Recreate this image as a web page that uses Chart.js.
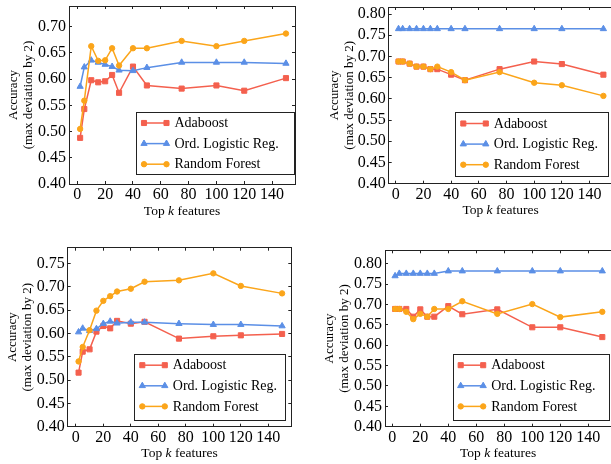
<!DOCTYPE html>
<html><head><meta charset="utf-8">
<script src="https://cdn.jsdelivr.net/npm/chart.js@4/dist/chart.umd.min.js"></script>
<style>
html,body{margin:0;padding:0;background:#fff;}
body{width:611px;height:464px;overflow:hidden;position:relative;}
.panel{position:absolute;overflow:hidden;}
canvas{position:absolute;left:0;top:0;}
</style></head><body>
<div class="panel" style="left:0;top:0;width:305px;height:232px"><canvas id="c1" width="305" height="232"></canvas></div>
<div class="panel" style="left:305px;top:0;width:306px;height:232px"><canvas id="c2" width="320" height="232"></canvas></div>
<div class="panel" style="left:0;top:232px;width:305px;height:232px"><canvas id="c3" width="305" height="232"></canvas></div>
<div class="panel" style="left:305px;top:232px;width:306px;height:232px"><canvas id="c4" width="320" height="232"></canvas></div>
<script>
// ---- data ----
const kValues = [2, 5, 10, 15, 20, 25, 30, 40, 50, 75, 100, 120, 150];
const seriesNames = ['Adaboost', 'Ord. Logistic Reg.', 'Random Forest'];
const yTitleLines = ['Accuracy', '(max deviation by 2)'];
const xTitleParts = ['Top ', 'k', ' features'];

// top-left
const tlAdaboost = [0.488, 0.543, 0.598, 0.594, 0.596, 0.608, 0.574, 0.624, 0.588, 0.582, 0.588, 0.578, 0.602];
const tlOrdLogistic = [0.586, 0.623, 0.636, 0.632, 0.628, 0.624, 0.617, 0.616, 0.622, 0.632, 0.632, 0.632, 0.630];
const tlRandomForest = [0.505, 0.559, 0.663, 0.635, 0.636, 0.659, 0.626, 0.659, 0.659, 0.673, 0.663, 0.673, 0.687];
// top-right
const trAdaboost = [0.688, 0.688, 0.683, 0.676, 0.676, 0.670, 0.670, 0.657, 0.644, 0.670, 0.688, 0.682, 0.657];
const trOrdLogistic = [0.765, 0.765, 0.765, 0.765, 0.765, 0.765, 0.765, 0.765, 0.765, 0.765, 0.765, 0.765, 0.765];
const trRandomForest = [0.688, 0.688, 0.683, 0.676, 0.676, 0.670, 0.676, 0.663, 0.644, 0.663, 0.638, 0.632, 0.607];
// bottom-left
const blAdaboost = [0.516, 0.561, 0.566, 0.604, 0.616, 0.611, 0.627, 0.621, 0.625, 0.589, 0.594, 0.596, 0.599];
const blOrdLogistic = [0.603, 0.611, 0.606, 0.610, 0.621, 0.626, 0.622, 0.624, 0.624, 0.621, 0.619, 0.619, 0.616];
const blRandomForest = [0.540, 0.571, 0.607, 0.649, 0.670, 0.680, 0.690, 0.696, 0.711, 0.714, 0.729, 0.702, 0.686];
// bottom-right
const brAdaboost = [0.689, 0.689, 0.689, 0.670, 0.688, 0.670, 0.670, 0.696, 0.676, 0.688, 0.644, 0.644, 0.620];
const brOrdLogistic = [0.770, 0.776, 0.776, 0.776, 0.776, 0.776, 0.776, 0.782, 0.782, 0.782, 0.782, 0.782, 0.782];
const brRandomForest = [0.689, 0.689, 0.682, 0.664, 0.677, 0.670, 0.689, 0.689, 0.708, 0.677, 0.701, 0.669, 0.682];

// ---- style ----
const colors = ['#F4604E', '#5B8FE6', '#FBA51A'];
const pointStyles = ['rect', 'triangle', 'circle'];
const pointRadii = [3.6, 3.6, 2.7];
const FONT = '"Liberation Serif", "Times New Roman", serif';
const FRAME = '#222';

const panels = [
  { id: 'c1', series: [tlAdaboost, tlOrdLogistic, tlRandomForest], xMin: -6, xMax: 156.5, yMax: 0.7396,
    yW: 69, xH: 48, padTop: 6, padRight: 10, titlePad: 5.8, rightFrame: true, legend: { rg: 1, bg: 10.5, w: 158, h: 62 } },
  { id: 'c2', series: [trAdaboost, trOrdLogistic, trRandomForest], xMin: -5.1, xMax: 156.5, yMax: 0.8165,
    yW: 83.7, xH: 48.3, padTop: 7, padRight: 12.6, titlePad: 21.8, rightFrame: false, legend: { rg: 4.1, bg: 7.7, w: 153, h: 64 } },
  { id: 'c3', series: [blAdaboost, blOrdLogistic, blRandomForest], xMin: -5.9, xMax: 156.7, yMax: 0.784,
    yW: 67.7, xH: 37.3, padTop: 15.7, padRight: 13.7, titlePad: 4.8, rightFrame: true, legend: { rg: 6.3, bg: 7, w: 150.7, h: 66 } },
  { id: 'c4', series: [brAdaboost, brOrdLogistic, brRandomForest], xMin: -5.2, xMax: 156.5, yMax: 0.833,
    yW: 80, xH: 37.3, padTop: 18.3, padRight: 13.6, titlePad: 17.5, rightFrame: false, legend: { rg: 3.1, bg: 7, w: 155.6, h: 66 } }
];

const boxLegend = {
  id: 'boxLegend',
  afterDraw(chart, args, o) {
    const ctx = chart.ctx, ca = chart.chartArea;
    const x0 = ca.right - o.rg - o.w, y0 = ca.bottom - o.bg - o.h;
    ctx.save();
    ctx.fillStyle = '#fff';
    ctx.fillRect(x0, y0, o.w, o.h);
    ctx.strokeStyle = FRAME; ctx.lineWidth = 1;
    ctx.strokeRect(Math.round(x0) + 0.5, Math.round(y0) + 0.5, Math.round(o.w), Math.round(o.h));
    chart.data.datasets.forEach((ds, i) => {
      const cy = y0 + 11.5 + i * 20.6;
      const lx1 = x0 + 8, lx2 = x0 + 30.5;
      ctx.strokeStyle = ds.borderColor; ctx.lineWidth = ds.borderWidth;
      ctx.beginPath(); ctx.moveTo(lx1, cy); ctx.lineTo(lx2, cy); ctx.stroke();
      ctx.fillStyle = ds.backgroundColor; ctx.strokeStyle = ds.borderColor; ctx.lineWidth = 1;
      [lx1, lx2].forEach(px => Chart.helpers.drawPoint(ctx, { pointStyle: ds.pointStyle, radius: ds.pointRadius, rotation: 0, borderWidth: 1 }, px, cy));
      ctx.fillStyle = '#000';
      ctx.font = '14px ' + FONT;
      ctx.textBaseline = 'middle'; ctx.textAlign = 'left';
      ctx.fillText(ds.label, lx2 + 8, cy + 0.5);
    });
    ctx.restore();
  }
};

const xTitle = {
  id: 'xTitle',
  afterDraw(chart, args, o) {
    const ctx = chart.ctx, ca = chart.chartArea;
    const fonts = ['13.5px ' + FONT, 'italic 13.5px ' + FONT, '13.5px ' + FONT];
    ctx.save();
    let widths = xTitleParts.map((t, i) => { ctx.font = fonts[i]; return ctx.measureText(t).width; });
    const total = widths.reduce((a, b) => a + b, 0);
    let x = (ca.left + ca.right) / 2 - total / 2;
    const y = ca.bottom + o.gap;
    ctx.fillStyle = '#000'; ctx.textBaseline = 'middle'; ctx.textAlign = 'left';
    xTitleParts.forEach((t, i) => { ctx.font = fonts[i]; ctx.fillText(t, x, y); x += widths[i]; });
    ctx.restore();
  }
};

function frameGrid(show) {
  return { display: show, drawOnChartArea: false, drawTicks: true, tickLength: -3, color: FRAME, lineWidth: 1 };
}

panels.forEach(p => {
  new Chart(document.getElementById(p.id), {
    type: 'line',
    data: {
      datasets: p.series.map((vals, i) => ({
        label: seriesNames[i],
        data: kValues.map((k, j) => ({ x: k, y: vals[j] })),
        borderColor: colors[i], backgroundColor: colors[i],
        pointStyle: pointStyles[i], pointRadius: pointRadii[i], pointBorderWidth: 1,
        borderWidth: 1.5, tension: 0, fill: false, order: 2 - i
      }))
    },
    options: {
      responsive: false, animation: false, events: [],
      layout: { padding: { top: p.padTop, right: p.padRight, left: 0, bottom: 0 } },
      plugins: { legend: { display: false }, tooltip: { enabled: false },
        boxLegend: p.legend, xTitle: { gap: 27 } },
      scales: {
        x: { type: 'linear', position: 'bottom', min: p.xMin, max: p.xMax,
          ticks: { stepSize: 20, includeBounds: false, padding: 4, maxRotation: 0, autoSkip: false,
            color: '#000', font: { family: FONT, size: 16 } },
          grid: frameGrid(true), border: { display: true, color: FRAME, width: 1 },
          afterFit: s => { s.height = p.xH; s.paddingLeft = 0; s.paddingRight = 0; } },
        x2: { type: 'linear', position: 'top', min: p.xMin, max: p.xMax,
          ticks: { display: false, stepSize: 20, includeBounds: false, autoSkip: false },
          grid: frameGrid(true), border: { display: true, color: FRAME, width: 1 },
          afterFit: s => { s.height = 0; s.paddingLeft = 0; s.paddingRight = 0; } },
        y: { type: 'linear', position: 'left', min: 0.4, max: p.yMax,
          ticks: { stepSize: 0.05, includeBounds: false, padding: 6, color: '#000', autoSkip: false,
            font: { family: FONT, size: 16 }, callback: v => v.toFixed(2) },
          title: { display: true, text: yTitleLines, color: '#000',
            font: { family: FONT, size: 13, lineHeight: 15 / 13 }, padding: { top: p.titlePad, bottom: 0 } },
          grid: frameGrid(true), border: { display: true, color: FRAME, width: 1 },
          afterFit: s => { s.width = p.yW; s.paddingTop = 0; s.paddingBottom = 0; } },
        y2: { type: 'linear', position: 'right', min: 0.4, max: p.yMax,
          ticks: { display: false, stepSize: 0.05, includeBounds: false, autoSkip: false },
          grid: frameGrid(p.rightFrame), border: { display: p.rightFrame, color: FRAME, width: 1 },
          afterFit: s => { s.width = 0; s.paddingTop = 0; s.paddingBottom = 0; } }
      }
    },
    plugins: [boxLegend, xTitle]
  });
});
</script>
</body></html>
